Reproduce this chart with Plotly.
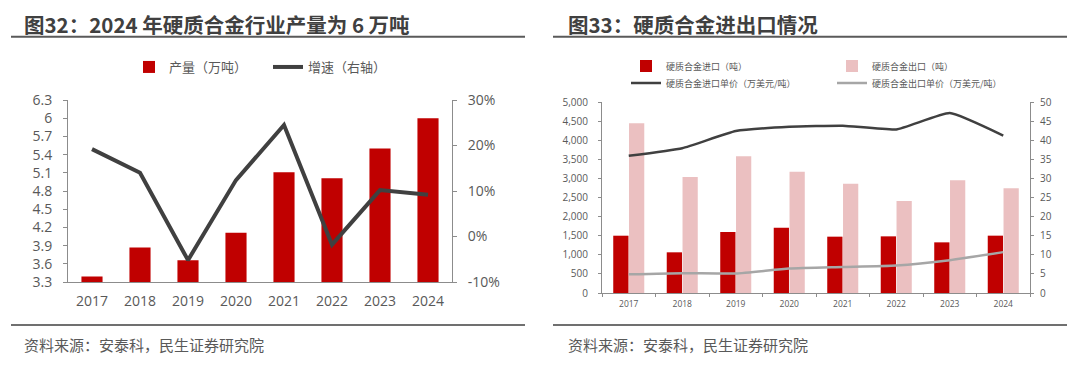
import plotly.graph_objects as go

# ---------------- data ----------------
years = ["2017", "2018", "2019", "2020", "2021", "2022", "2023", "2024"]

# 图32
output_wt = [3.39, 3.87, 3.66, 4.11, 5.11, 5.01, 5.50, 6.00]       # 产量（万吨）
growth_pct = [19.2, 14.0, -5.2, 12.4, 24.5, -1.8, 10.2, 9.2]        # 增速（右轴, %）
left_tick_vals = [3.3, 3.6, 3.9, 4.2, 4.5, 4.8, 5.1, 5.4, 5.7, 6.0, 6.3]
left_tick_text = ["3.3", "3.6", "3.9", "4.2", "4.5", "4.8", "5.1", "5.4", "5.7", "6", "6.3"]
growth_tick_vals = [-10, 0, 10, 20, 30]
growth_tick_text = ["-10%", "0%", "10%", "20%", "30%"]

# 图33
import_t = [1500, 1065, 1597, 1710, 1475, 1483, 1326, 1501]          # 硬质合金进口（吨）
export_t = [4442, 3037, 3578, 3176, 2862, 2408, 2949, 2740]          # 硬质合金出口（吨）
import_price = [35.9, 37.9, 42.4, 43.5, 43.8, 42.8, 47.1, 41.2]      # 进口单价（万美元/吨）
export_price = [4.9, 5.2, 5.1, 6.4, 6.8, 7.2, 8.6, 10.7]             # 出口单价（万美元/吨）

title_left = "图32：2024 年硬质合金行业产量为 6 万吨"
title_right = "图33：硬质合金进出口情况"
source_text = "资料来源：安泰科，民生证券研究院"

# ---------------- layout helpers ----------------
# the page body adds an 8px margin, so the figure is sized to fill the rest
OFF = 8
FW, FH = 1080 - OFF, 366 - OFF


def X(px):
    return (px - OFF) / FW


def Y(py):
    return 1 - (py - OFF) / FH


RED = "#C00000"
PINK = "#EBC0C1"
DARK = "#404040"
LIGHT = "#A6A6A6"
TXT = "#595959"
AX = "#8C8C8C"
NUM_FONT = "Open Sans, Noto Sans CJK SC, sans-serif"
CJK_FONT = "Noto Sans CJK SC, Noto Sans, sans-serif"

fig = go.Figure()

# ---- left chart ----
fig.add_trace(go.Bar(
    x=years, y=output_wt, name="产量（万吨）",
    marker=dict(color=RED, line=dict(width=0)),
    width=0.44, offset=-0.22,
    xaxis="x", yaxis="y", legend="legend",
))
fig.add_trace(go.Scatter(
    x=years, y=growth_pct, name="增速（右轴）", mode="lines",
    line=dict(color=DARK, width=4),
    xaxis="x", yaxis="y2", legend="legend",
))

# ---- right chart ----
fig.add_trace(go.Bar(
    x=years, y=import_t, name="硬质合金进口（吨）",
    marker=dict(color=RED, line=dict(width=0)),
    width=0.285, offset=-0.29,
    xaxis="x2", yaxis="y3", legend="legend2",
))
fig.add_trace(go.Bar(
    x=years, y=export_t, name="硬质合金出口（吨）",
    marker=dict(color=PINK, line=dict(width=0)),
    width=0.285, offset=0.005,
    xaxis="x2", yaxis="y3", legend="legend2",
))
fig.add_trace(go.Scatter(
    x=years, y=import_price, name="硬质合金进口单价（万美元/吨）", mode="lines",
    line=dict(color=DARK, width=2.5, shape="spline", smoothing=0.4),
    xaxis="x2", yaxis="y4", legend="legend3",
))
fig.add_trace(go.Scatter(
    x=years, y=export_price, name="硬质合金出口单价（万美元/吨）", mode="lines",
    line=dict(color=LIGHT, width=2.5, shape="spline", smoothing=0.5),
    xaxis="x2", yaxis="y4", legend="legend3",
))

axis_common = dict(showgrid=False, zeroline=False, showline=True, automargin=False,
                   linecolor=AX, linewidth=1, tickcolor=AX)

fig.update_layout(
    template="none",
    width=FW, height=FH,
    margin=dict(l=0, r=0, t=0, b=0, pad=0, autoexpand=False),
    paper_bgcolor="white", plot_bgcolor="white",
    barmode="overlay",
    font=dict(family=NUM_FONT, color=TXT),
    xaxis=dict(domain=[X(68), X(452)], anchor="y", type="category",
               range=[-0.5, 7.5], ticks="", tickfont=dict(size=14, color=TXT),
               ticklabelstandoff=6, **axis_common),
    yaxis=dict(domain=[Y(282), Y(100)], anchor="x", range=[3.3, 6.3],
               tickmode="array", tickvals=left_tick_vals, ticktext=left_tick_text,
               ticks="outside", ticklen=4, ticklabelstandoff=8,
               tickfont=dict(size=14, color=TXT), **axis_common),
    yaxis2=dict(overlaying="y", anchor="x", side="right", range=[-10, 30],
                tickmode="array", tickvals=growth_tick_vals, ticktext=growth_tick_text,
                ticks="outside", ticklen=4, ticklabelstandoff=8,
                tickfont=dict(size=14, color=TXT), **axis_common),
    xaxis2=dict(domain=[X(602), X(1030)], anchor="y3", type="category",
                range=[-0.5, 7.5], ticks="outside", tickson="boundaries",
                ticklen=3, tickfont=dict(size=8.5, color=TXT),
                ticklabelstandoff=3, **axis_common),
    yaxis3=dict(domain=[Y(293), Y(102)], anchor="x2", range=[0, 5000],
                dtick=500, tickformat=",", ticks="outside", ticklen=3,
                ticklabelstandoff=8, tickfont=dict(size=10, color=TXT),
                **axis_common),
    yaxis4=dict(overlaying="y3", anchor="x2", side="right", range=[0, 50],
                dtick=5, ticks="outside", ticklen=3, ticklabelstandoff=4,
                tickfont=dict(size=10, color=TXT), **axis_common),
    legend=dict(orientation="h", x=X(129), y=Y(67), xanchor="left", yanchor="middle",
                font=dict(family=CJK_FONT, size=13, color=TXT),
                bgcolor="rgba(0,0,0,0)", entrywidth=94, entrywidthmode="pixels",
                borderwidth=0),
    legend2=dict(orientation="h", x=X(626), y=Y(66), xanchor="left", yanchor="middle",
                 font=dict(family=CJK_FONT, size=9, color=TXT),
                 bgcolor="rgba(0,0,0,0)", entrywidth=161, entrywidthmode="pixels",
                 borderwidth=0),
    legend3=dict(orientation="h", x=X(626), y=Y(83), xanchor="left", yanchor="middle",
                 font=dict(family=CJK_FONT, size=9, color=TXT),
                 bgcolor="rgba(0,0,0,0)", entrywidth=161, entrywidthmode="pixels",
                 borderwidth=0),
)

# titles, rules, source notes
for x0, x1, tx, title in [(11, 525, 22, title_left), (553, 1067, 566, title_right)]:
    fig.add_annotation(text=title, x=X(tx), y=Y(24), xref="paper", yref="paper",
                       xanchor="left", yanchor="middle", showarrow=False,
                       font=dict(family=CJK_FONT, size=20.5, color="#404040", weight="bold"))
    fig.add_shape(type="line", xref="paper", yref="paper",
                  x0=X(x0), x1=X(x1), y0=Y(36.7), y1=Y(36.7),
                  line=dict(color="#5A5A5A", width=2))
    fig.add_shape(type="line", xref="paper", yref="paper",
                  x0=X(x0), x1=X(x1), y0=Y(325), y1=Y(325),
                  line=dict(color="#707070", width=2))
    fig.add_annotation(text=source_text, x=X(tx), y=Y(344), xref="paper", yref="paper",
                       xanchor="left", yanchor="middle", showarrow=False,
                       font=dict(family=CJK_FONT, size=15, color=TXT))

fig.write_html("out.html")
